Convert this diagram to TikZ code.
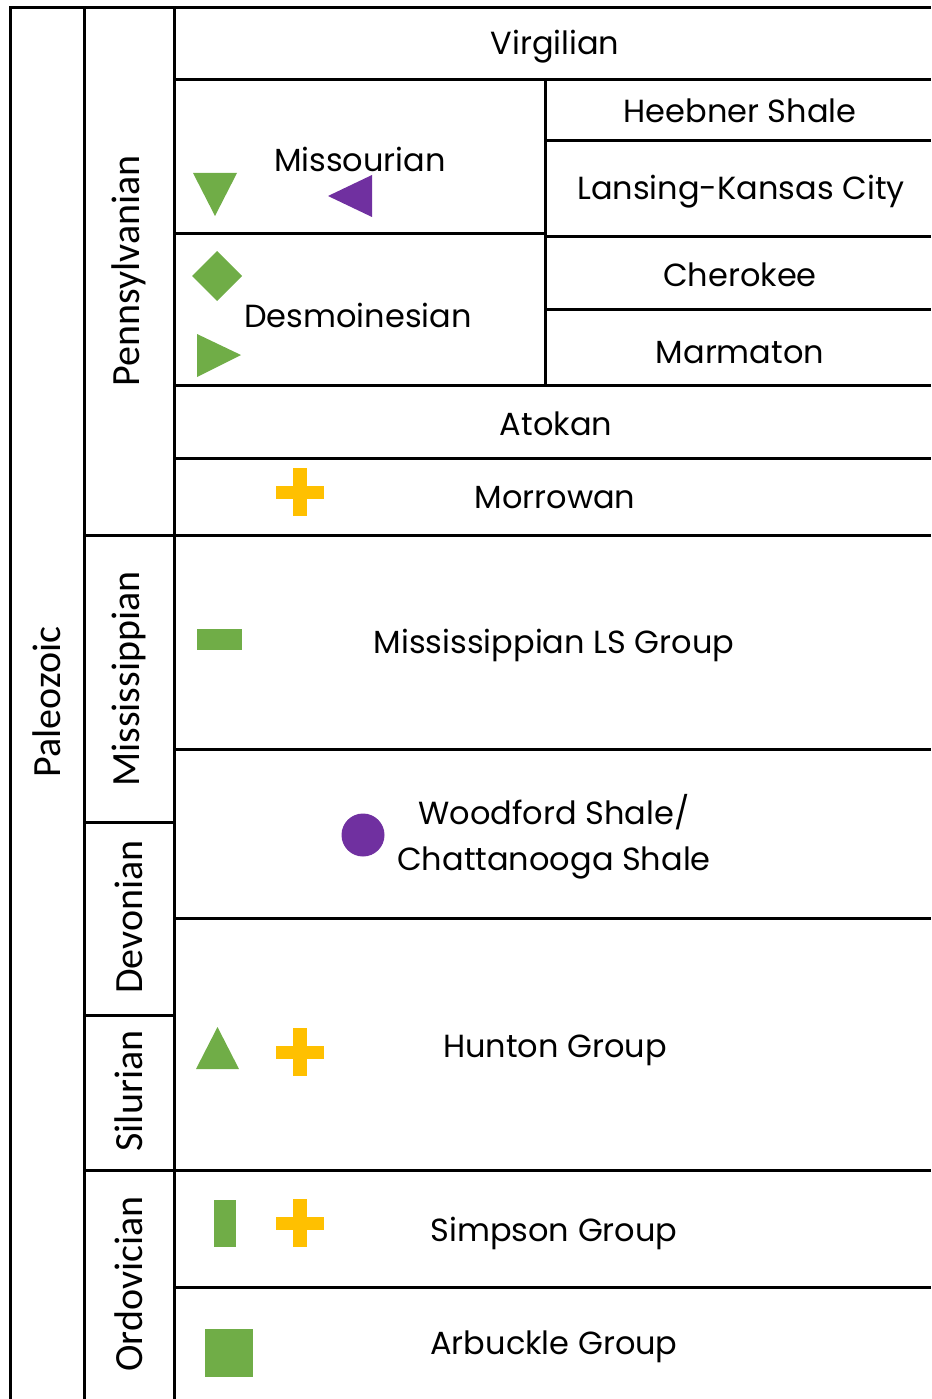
\documentclass[tikz,border=0pt]{standalone}
\usepackage{fontspec}
\setmainfont{Poppins}
\newfontfamily\rotfont{Carlito}
\definecolor{sgreen}{HTML}{70AD47}
\definecolor{spurple}{HTML}{7030A0}
\definecolor{syellow}{HTML}{FFC000}
\begin{document}
\begin{tikzpicture}[x=1pt,y=-1pt,
  grid/.style={line width=3pt,black},
  lbl/.style={font=\fontsize{32}{46}\selectfont,inner sep=0pt,align=center},
  vlbl/.style={font=\rotfont\fontsize{40}{42}\selectfont,rotate=90,inner sep=0pt}]
\useasboundingbox (0,0) rectangle (931,1399);
% frame
\draw[grid] (10,1399) -- (10,8) -- (931,8);
\draw[grid] (84,8) -- (84,1399);
\draw[grid] (174,8) -- (174,1399);
% column 2 dividers
\draw[grid] (84,535) -- (931,535);
\draw[grid] (84,822) -- (174,822);
\draw[grid] (84,1015) -- (174,1015);
\draw[grid] (84,1170) -- (931,1170);
% column 3 dividers
\draw[grid] (174,80) -- (931,80);
\draw[grid] (545,80) -- (545,385);
\draw[grid] (545,141) -- (931,141);
\draw[grid] (174,233) -- (545,233);
\draw[grid] (545,236) -- (931,236);
\draw[grid] (545,309) -- (931,309);
\draw[grid] (174,385) -- (931,385);
\draw[grid] (174,458) -- (931,458);
\draw[grid] (174,749) -- (931,749);
\draw[grid] (174,918) -- (931,918);
\draw[grid] (174,1287) -- (931,1287);
% rotated labels
\node[vlbl] (paleo) at (47,702) {Paleozoic};
\node[vlbl] (penn) at (129,271) {Pennsylvanian};
\node[vlbl] (miss) at (129,679) {Mississippian};
\node[vlbl] (dev) at (129,917) {Devonian};
\node[vlbl] (sil) at (129,1091) {Silurian};
\node[vlbl] (ord) at (129,1284) {Ordovician};
% horizontal labels
\node[lbl] (virg) at (555,47) {Virgilian};
\node[lbl] (misso) at (360,159) {Missourian};
\node[lbl] (heeb) at (740,111) {Heebner Shale};
\node[lbl] (lkc) at (741,192) {Lansing-Kansas City};
\node[lbl] (cher) at (740,275) {Cherokee};
\node[lbl] (marm) at (740,353) {Marmaton};
\node[lbl] (desm) at (358,315) {Desmoinesian};
\node[lbl] (atok) at (556,424) {Atokan};
\node[lbl] (morr) at (555,498) {Morrowan};
\node[lbl] (mlsg) at (554,645) {Mississippian LS Group};
\node[lbl] (wood) at (554,837) {Woodford Shale/\\Chattanooga Shale};
\node[lbl] (hunt) at (555,1050) {Hunton Group};
\node[lbl] (simp) at (554,1233) {Simpson Group};
\node[lbl] (arbu) at (554,1347) {Arbuckle Group};
% symbols
\fill[sgreen] (193,173) -- (237,173) -- (215,216) -- cycle;
\fill[spurple] (372,175) -- (372,217) -- (328,196) -- cycle;
\fill[sgreen] (217,251) -- (242,276) -- (217,301) -- (192,276) -- cycle;
\fill[sgreen] (197,334) -- (241,355) -- (197,377) -- cycle;
\fill[sgreen] (197,629) rectangle (242,650);
\fill[spurple] (363,835) circle (21.5);
\fill[sgreen] (196,1069) -- (239,1069) -- (217.5,1027) -- cycle;
\fill[sgreen] (214,1200) rectangle (236,1247);
\fill[sgreen] (205,1329) rectangle (253,1377);
\foreach \cx/\cy in {300/492, 300/1052, 300/1223}{
  \fill[syellow] (\cx-7,\cy-24) rectangle (\cx+7,\cy+24);
  \fill[syellow] (\cx-24,\cy-6.5) rectangle (\cx+24,\cy+6.5);
}
\end{tikzpicture}
\end{document}
